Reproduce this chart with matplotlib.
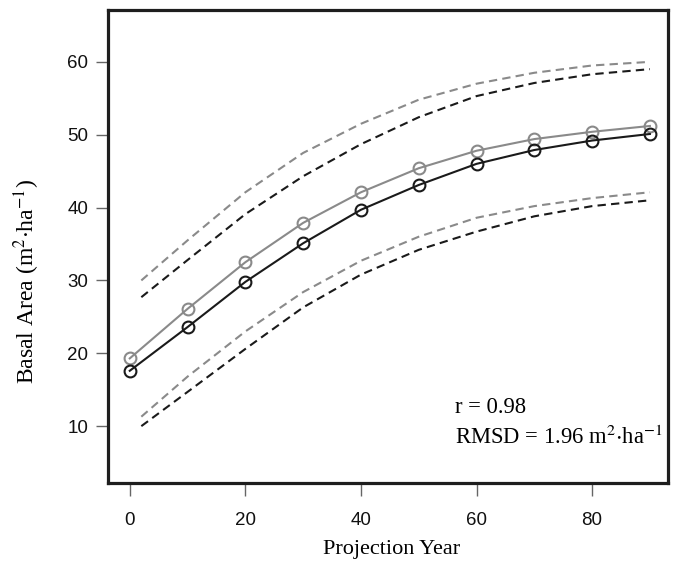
import matplotlib
matplotlib.use('Agg')
import matplotlib.pyplot as plt

plt.rcParams['mathtext.fontset'] = 'stix'

# projection years
years = [0, 10, 20, 30, 40, 50, 60, 70, 80, 90]
band_years = [2, 10, 20, 30, 40, 50, 60, 70, 80, 90]

# mean basal area (m2/ha)
black_mean = [17.6, 23.6, 29.8, 35.1, 39.7, 43.1, 46.0, 47.9, 49.2, 50.1]
gray_mean = [19.3, 26.1, 32.5, 37.9, 42.1, 45.4, 47.8, 49.4, 50.4, 51.2]

# upper / lower bounds
black_upper = [27.7, 32.8, 39.1, 44.3, 48.7, 52.4, 55.3, 57.1, 58.3, 59.0]
gray_upper = [30.0, 35.5, 42.1, 47.5, 51.5, 54.8, 57.0, 58.5, 59.5, 60.0]
black_lower = [10.0, 14.7, 20.6, 26.3, 30.8, 34.2, 36.7, 38.8, 40.2, 41.0]
gray_lower = [11.3, 16.8, 23.0, 28.4, 32.7, 36.0, 38.6, 40.2, 41.3, 42.1]

xticks = [0, 20, 40, 60, 80]
yticks = [10, 20, 30, 40, 50, 60]

gray = '#8a8a8a'
black = '#1a1a1a'
dash = (0, (4, 2.5))

fig = plt.figure(figsize=(6.78, 5.62), dpi=100)
ax = fig.add_axes([0.159, 0.1406, 0.826, 0.8414])

ax.plot(band_years, gray_upper, color=gray, lw=1.5, linestyle=dash)
ax.plot(band_years, gray_lower, color=gray, lw=1.5, linestyle=dash)
ax.plot(band_years, black_upper, color=black, lw=1.5, linestyle=dash)
ax.plot(band_years, black_lower, color=black, lw=1.5, linestyle=dash)

ax.plot(years, gray_mean, color=gray, lw=1.5, marker='o', ms=8.5,
        mfc='none', mec=gray, mew=1.5)
ax.plot(years, black_mean, color=black, lw=1.5, marker='o', ms=8.5,
        mfc='none', mec=black, mew=1.5)

ax.set_xlim(-3.8, 93.1)
ax.set_ylim(2.2, 67.1)
ax.set_xticks(xticks)
ax.set_yticks(yticks)

for s in ax.spines.values():
    s.set_linewidth(2.3)
    s.set_color('#1e1e1e')

ax.tick_params(direction='out', length=9, width=1, color='#666666', labelsize=13.5)
ax.tick_params(axis='x', pad=12)
ax.tick_params(axis='y', pad=5)
for lab in ax.get_xticklabels() + ax.get_yticklabels():
    lab.set_fontfamily('Liberation Sans')
    lab.set_color('#111111')

ax.set_xlabel('Projection Year', fontfamily='Liberation Serif', fontsize=16)
ax.set_ylabel(r'Basal Area (m$^2$$\cdot$ha$^{-1}$)', fontfamily='Liberation Serif',
              fontsize=17)
ax.xaxis.set_label_coords(0.506, -0.12)
ax.yaxis.set_label_coords(-0.118, 0.427)

ax.text(0.62, 0.159, 'r = 0.98', transform=ax.transAxes,
        fontfamily='Liberation Serif', fontsize=16.3, va='center')
ax.text(0.62, 0.097, r'RMSD = 1.96 m$^2$$\cdot$ha$^{-1}$', transform=ax.transAxes,
        fontfamily='Liberation Serif', fontsize=16.3, va='center')

plt.savefig('out.png', dpi=100)
